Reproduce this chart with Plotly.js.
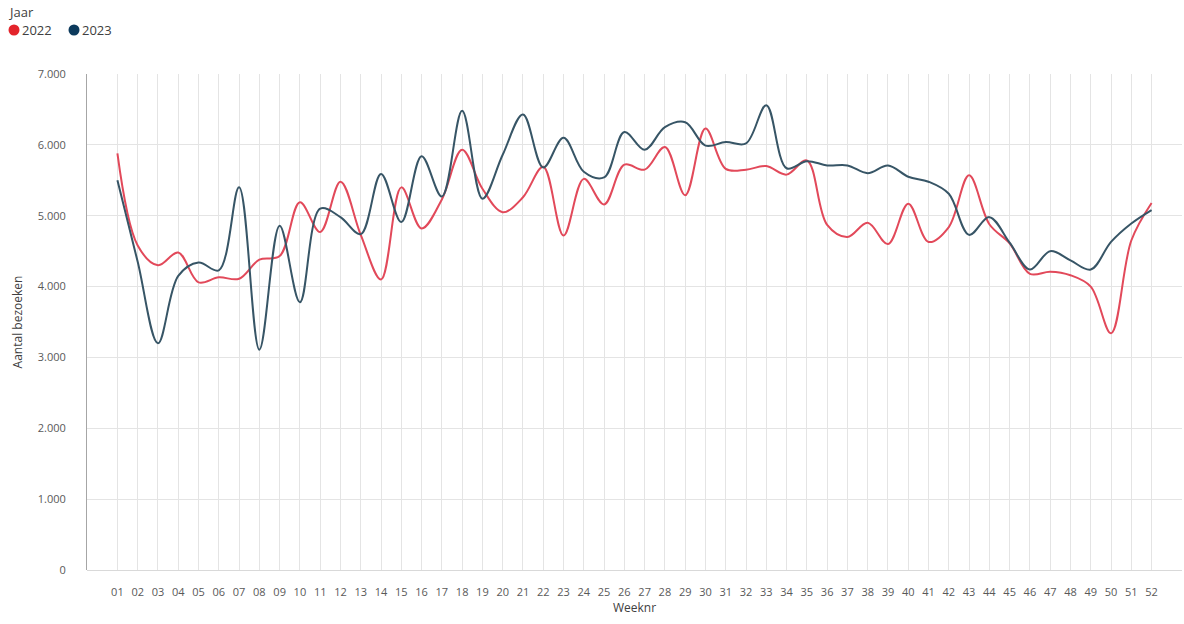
<!DOCTYPE html>
<html>
<head>
<meta charset="utf-8">
<script src="https://cdn.plot.ly/plotly-3.0.1.min.js"></script>
<style>
  html, body { margin: 0; padding: 0; background: #ffffff; }
  #chart { width: 1184px; height: 624px; }
</style>
</head>
<body>
<div id="chart"></div>
<script>
const weeks = ["01","02","03","04","05","06","07","08","09","10","11","12","13","14","15","16","17","18","19","20","21","22","23","24","25","26","27","28","29","30","31","32","33","34","35","36","37","38","39","40","41","42","43","44","45","46","47","48","49","50","51","52"];

const visits2022 = [5880,4580,4300,4480,4060,4130,4110,4380,4430,5190,4770,5480,4730,4100,5400,4820,5230,5930,5380,5050,5260,5690,4720,5520,5160,5720,5650,5970,5290,6230,5660,5650,5700,5580,5780,4870,4700,4900,4600,5170,4630,4840,5570,4880,4610,4180,4210,4160,4000,3340,4650,5180];

const visits2023 = [5500,4350,3200,4150,4340,4230,5400,3110,4860,3780,5100,4980,4740,5590,4910,5840,5270,6480,5240,5860,6430,5680,6100,5620,5540,6180,5930,6250,6320,5990,6040,6020,6560,5670,5770,5710,5710,5600,5710,5550,5480,5310,4730,4980,4620,4240,4500,4370,4240,4630,4890,5080];

const seriesNames = ["2022", "2023"];
const legendTitle = "Jaar";
const lineColors = ["#e2495a", "#375566"];
const dotColors = ["#e3242b", "#0c3a5c"];

// plot-area geometry (pixels) used to place the legend in paper coordinates
const W = 1184, H = 624;
const M = { l: 87, r: 2, t: 74, b: 54 };
const PW = W - M.l - M.r, PH = H - M.t - M.b;
const px = x => (x - M.l) / PW;
const py = y => (H - M.b - y) / PH;

const traces = [visits2022, visits2023].map((vals, i) => ({
  type: "scatter",
  mode: "lines",
  x: weeks,
  y: vals,
  name: seriesNames[i],
  showlegend: false,
  line: { color: lineColors[i], width: 2, shape: "spline", smoothing: 1 },
  hoverinfo: "x+y+name"
}));

// custom legend: title, dots and labels
const annotations = [{
  xref: "paper", yref: "paper", x: px(6), y: py(12),
  xanchor: "left", yanchor: "middle", showarrow: false,
  text: legendTitle, font: { size: 13, color: "#404040" }
}];
const shapes = [];
seriesNames.forEach((n, i) => {
  const cx = 14 + i * 60;
  shapes.push({
    type: "circle", xref: "paper", yref: "paper",
    xsizemode: "pixel", ysizemode: "pixel",
    xanchor: px(cx), yanchor: py(30),
    x0: -5.5, x1: 5.5, y0: -5.5, y1: 5.5,
    fillcolor: dotColors[i], line: { width: 0 }
  });
  annotations.push({
    xref: "paper", yref: "paper", x: px(cx + 6), y: py(30),
    xanchor: "left", yanchor: "middle", showarrow: false,
    text: n, font: { size: 13, color: "#404040" }
  });
});

const layout = {
  width: W,
  height: H,
  paper_bgcolor: "#ffffff",
  plot_bgcolor: "#ffffff",
  separators: ",.",
  font: { family: "Open Sans, Roboto, sans-serif", size: 11, color: "#595959" },
  margin: { l: M.l, r: M.r, t: M.t, b: M.b, pad: 0 },
  showlegend: false,
  annotations: annotations,
  shapes: shapes,
  xaxis: {
    type: "category",
    range: [-1.5, 52.5],
    showgrid: true,
    gridcolor: "#e4e4e4",
    gridwidth: 1,
    showline: false,
    zeroline: false,
    ticks: "",
    ticklabelstandoff: 14,
    tickfont: { size: 11, color: "#595959" },
    title: { text: "Weeknr", font: { size: 12, color: "#404040" }, standoff: 4 },
    fixedrange: true
  },
  yaxis: {
    range: [0, 7000],
    dtick: 1000,
    tick0: 0,
    tickformat: ",d",
    showgrid: true,
    gridcolor: "#e4e4e4",
    gridwidth: 1,
    showline: true,
    linecolor: "#a6a6a6",
    linewidth: 1,
    zeroline: true,
    zerolinecolor: "#d9d9d9",
    ticks: "",
    ticklabelstandoff: 18,
    tickfont: { size: 11, color: "#595959" },
    title: { text: "Aantal bezoeken", font: { size: 12, color: "#404040" }, standoff: 12 },
    fixedrange: true
  }
};

Plotly.newPlot("chart", traces, layout, { displayModeBar: false });
</script>
</body>
</html>
